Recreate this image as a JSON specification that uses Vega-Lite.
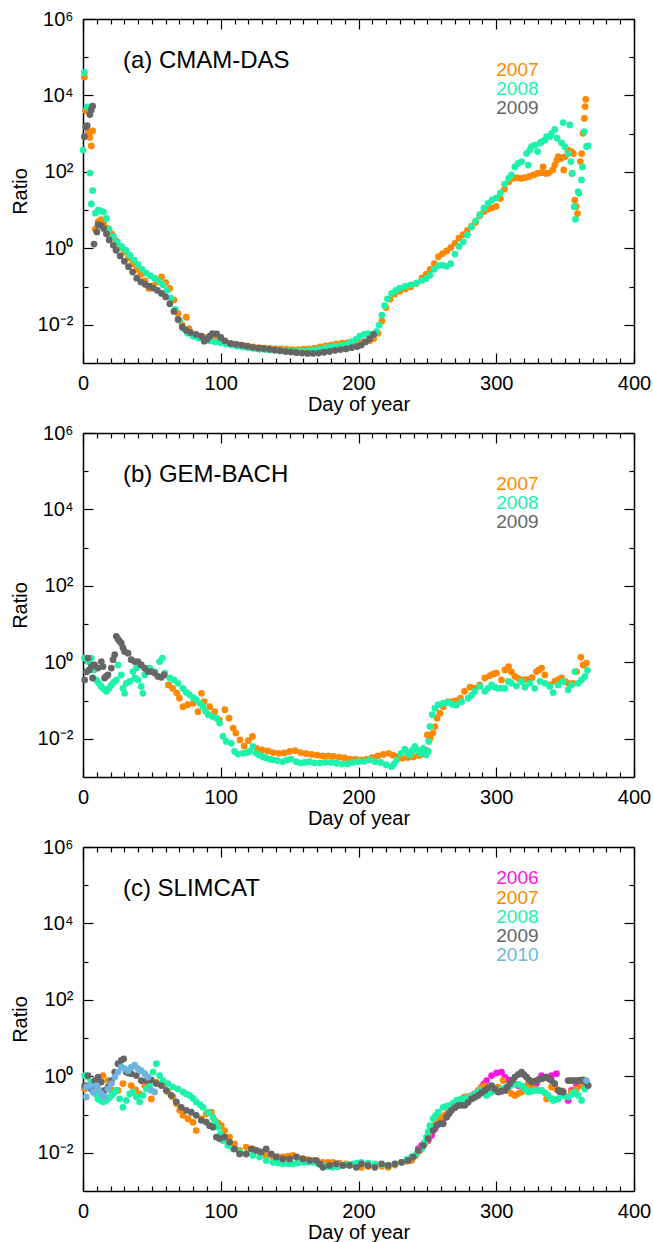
{
"$schema": "https://vega.github.io/schema/vega-lite/v6.json",
"padding": {"left": 10, "top": 9, "right": 5, "bottom": 5},
"config": {
  "view": {"stroke": null},
  "font": "Liberation Sans",
  "axis": {"grid": false, "domainColor": "black", "domainWidth": 1.5, "tickColor": "black", "tickWidth": 1.2, "labelColor": "black", "labelFont": "Liberation Sans", "labelFontSize": 20, "titleFont": "Liberation Sans", "titleFontSize": 20, "titleFontWeight": "normal", "titleColor": "black"}
},
"datasets": {
"a": [
{"y":2007,"d":1,"r":30200},{"y":2007,"d":2,"r":3980},{"y":2007,"d":4,"r":1120},{"y":2007,"d":5,"r":794},{"y":2007,"d":6,"r":479},{"y":2007,"d":7,"r":1175},{"y":2007,"d":9,"r":3.16},{"y":2007,"d":11,"r":5.01},{"y":2007,"d":13,"r":5.62},{"y":2007,"d":15,"r":4.47},{"y":2007,"d":18,"r":3.31},{"y":2007,"d":21,"r":2.4},{"y":2007,"d":24,"r":1.58},{"y":2007,"d":27,"r":1.05},{"y":2007,"d":30,"r":0.794},{"y":2007,"d":33,"r":0.562},{"y":2007,"d":36,"r":0.398},{"y":2007,"d":39,"r":0.282},{"y":2007,"d":42,"r":0.209},{"y":2007,"d":45,"r":0.141},{"y":2007,"d":48,"r":0.0891},{"y":2007,"d":51,"r":0.105},{"y":2007,"d":54,"r":0.132},{"y":2007,"d":57,"r":0.178},{"y":2007,"d":60,"r":0.126},{"y":2007,"d":63,"r":0.0891},{"y":2007,"d":66,"r":0.0447},{"y":2007,"d":69,"r":0.02},{"y":2007,"d":72,"r":0.01},{"y":2007,"d":75,"r":0.0158},{"y":2007,"d":77,"r":0.00794},{"y":2007,"d":80,"r":0.00537},{"y":2007,"d":84,"r":0.00501},{"y":2007,"d":88,"r":0.00468},{"y":2007,"d":92,"r":0.00437},{"y":2007,"d":96,"r":0.00398},{"y":2007,"d":100,"r":0.00372},{"y":2007,"d":104,"r":0.00339},{"y":2007,"d":108,"r":0.00316},{"y":2007,"d":112,"r":0.00302},{"y":2007,"d":116,"r":0.00288},{"y":2007,"d":120,"r":0.00275},{"y":2007,"d":124,"r":0.00263},{"y":2007,"d":128,"r":0.00251},{"y":2007,"d":132,"r":0.00245},{"y":2007,"d":136,"r":0.0024},{"y":2007,"d":140,"r":0.00234},{"y":2007,"d":144,"r":0.00234},{"y":2007,"d":148,"r":0.00229},{"y":2007,"d":152,"r":0.00224},{"y":2007,"d":156,"r":0.00224},{"y":2007,"d":160,"r":0.00229},{"y":2007,"d":164,"r":0.00234},{"y":2007,"d":168,"r":0.00245},{"y":2007,"d":172,"r":0.00263},{"y":2007,"d":176,"r":0.00282},{"y":2007,"d":180,"r":0.00295},{"y":2007,"d":184,"r":0.00316},{"y":2007,"d":188,"r":0.00331},{"y":2007,"d":192,"r":0.00339},{"y":2007,"d":196,"r":0.00347},{"y":2007,"d":200,"r":0.00347},{"y":2007,"d":204,"r":0.00355},{"y":2007,"d":208,"r":0.0038},{"y":2007,"d":211,"r":0.00437},{"y":2007,"d":214,"r":0.00603},{"y":2007,"d":217,"r":0.0126},{"y":2007,"d":220,"r":0.0282},{"y":2007,"d":223,"r":0.0468},{"y":2007,"d":226,"r":0.0631},{"y":2007,"d":230,"r":0.0759},{"y":2007,"d":234,"r":0.0871},{"y":2007,"d":238,"r":0.0977},{"y":2007,"d":242,"r":0.12},{"y":2007,"d":246,"r":0.166},{"y":2007,"d":249,"r":0.209},{"y":2007,"d":252,"r":0.282},{"y":2007,"d":255,"r":0.398},{"y":2007,"d":258,"r":0.603},{"y":2007,"d":261,"r":0.724},{"y":2007,"d":264,"r":0.851},{"y":2007,"d":267,"r":1.05},{"y":2007,"d":270,"r":1.35},{"y":2007,"d":273,"r":1.86},{"y":2007,"d":276,"r":2.29},{"y":2007,"d":279,"r":2.95},{"y":2007,"d":282,"r":3.8},{"y":2007,"d":285,"r":4.79},{"y":2007,"d":288,"r":7.08},{"y":2007,"d":291,"r":9.12},{"y":2007,"d":294,"r":10.5},{"y":2007,"d":297,"r":11.5},{"y":2007,"d":300,"r":12.6},{"y":2007,"d":303,"r":20},{"y":2007,"d":306,"r":35.5},{"y":2007,"d":309,"r":55},{"y":2007,"d":312,"r":67.6},{"y":2007,"d":315,"r":70.8},{"y":2007,"d":318,"r":67.6},{"y":2007,"d":321,"r":70.8},{"y":2007,"d":324,"r":75.9},{"y":2007,"d":327,"r":83.2},{"y":2007,"d":330,"r":91.2},{"y":2007,"d":333,"r":95.5},{"y":2007,"d":334,"r":135},{"y":2007,"d":336,"r":91.2},{"y":2007,"d":338,"r":93.3},{"y":2007,"d":341,"r":112},{"y":2007,"d":342.5,"r":151},{"y":2007,"d":344,"r":204},{"y":2007,"d":345,"r":251},{"y":2007,"d":347,"r":224},{"y":2007,"d":349,"r":112},{"y":2007,"d":350,"r":251},{"y":2007,"d":352,"r":372},{"y":2007,"d":354.6,"r":339},{"y":2007,"d":355,"r":91.2},{"y":2007,"d":356,"r":302},{"y":2007,"d":357,"r":18.2},{"y":2007,"d":358,"r":12.3},{"y":2007,"d":359,"r":8.13},{"y":2007,"d":361,"r":186},{"y":2007,"d":362,"r":302},{"y":2007,"d":363,"r":1023},{"y":2007,"d":364,"r":2512},{"y":2007,"d":364.5,"r":5129},{"y":2007,"d":365,"r":7943},
{"y":2008,"d":0,"r":372},{"y":2008,"d":1,"r":39800},{"y":2008,"d":3,"r":5012},{"y":2008,"d":5,"r":93.3},{"y":2008,"d":6,"r":14.5},{"y":2008,"d":7,"r":32.4},{"y":2008,"d":9,"r":8.32},{"y":2008,"d":11,"r":10},{"y":2008,"d":13,"r":9.55},{"y":2008,"d":15,"r":8.91},{"y":2008,"d":17,"r":6.03},{"y":2008,"d":19,"r":3.16},{"y":2008,"d":22,"r":2.09},{"y":2008,"d":25,"r":1.48},{"y":2008,"d":28,"r":1.12},{"y":2008,"d":31,"r":0.891},{"y":2008,"d":34,"r":0.661},{"y":2008,"d":37,"r":0.501},{"y":2008,"d":40,"r":0.38},{"y":2008,"d":43,"r":0.282},{"y":2008,"d":46,"r":0.224},{"y":2008,"d":49,"r":0.191},{"y":2008,"d":52,"r":0.166},{"y":2008,"d":55,"r":0.141},{"y":2008,"d":58,"r":0.112},{"y":2008,"d":61,"r":0.0794},{"y":2008,"d":64,"r":0.0501},{"y":2008,"d":67,"r":0.0251},{"y":2008,"d":70,"r":0.0132},{"y":2008,"d":73,"r":0.00794},{"y":2008,"d":76,"r":0.00603},{"y":2008,"d":80,"r":0.00501},{"y":2008,"d":84,"r":0.00447},{"y":2008,"d":88,"r":0.00417},{"y":2008,"d":92,"r":0.0038},{"y":2008,"d":96,"r":0.00355},{"y":2008,"d":100,"r":0.00339},{"y":2008,"d":104,"r":0.00316},{"y":2008,"d":108,"r":0.00295},{"y":2008,"d":112,"r":0.00275},{"y":2008,"d":116,"r":0.00263},{"y":2008,"d":120,"r":0.00251},{"y":2008,"d":124,"r":0.0024},{"y":2008,"d":128,"r":0.00229},{"y":2008,"d":132,"r":0.00224},{"y":2008,"d":136,"r":0.00219},{"y":2008,"d":140,"r":0.00214},{"y":2008,"d":144,"r":0.00209},{"y":2008,"d":148,"r":0.00204},{"y":2008,"d":152,"r":0.002},{"y":2008,"d":156,"r":0.002},{"y":2008,"d":160,"r":0.002},{"y":2008,"d":164,"r":0.00209},{"y":2008,"d":168,"r":0.00219},{"y":2008,"d":172,"r":0.00229},{"y":2008,"d":176,"r":0.00245},{"y":2008,"d":180,"r":0.00263},{"y":2008,"d":184,"r":0.00275},{"y":2008,"d":188,"r":0.00295},{"y":2008,"d":192,"r":0.00316},{"y":2008,"d":195,"r":0.00355},{"y":2008,"d":198,"r":0.00417},{"y":2008,"d":201,"r":0.00501},{"y":2008,"d":204,"r":0.00562},{"y":2008,"d":207,"r":0.00589},{"y":2008,"d":210,"r":0.0055},{"y":2008,"d":213,"r":0.00661},{"y":2008,"d":215,"r":0.00977},{"y":2008,"d":217,"r":0.0178},{"y":2008,"d":219,"r":0.0316},{"y":2008,"d":221,"r":0.0479},{"y":2008,"d":224,"r":0.0661},{"y":2008,"d":227,"r":0.0794},{"y":2008,"d":230,"r":0.0912},{"y":2008,"d":234,"r":0.102},{"y":2008,"d":238,"r":0.11},{"y":2008,"d":242,"r":0.123},{"y":2008,"d":246,"r":0.145},{"y":2008,"d":249,"r":0.162},{"y":2008,"d":252,"r":0.2},{"y":2008,"d":255,"r":0.282},{"y":2008,"d":258,"r":0.355},{"y":2008,"d":261,"r":0.363},{"y":2008,"d":264,"r":0.339},{"y":2008,"d":267,"r":0.398},{"y":2008,"d":270,"r":0.708},{"y":2008,"d":273,"r":1.12},{"y":2008,"d":276,"r":1.48},{"y":2008,"d":279,"r":2.24},{"y":2008,"d":282,"r":3.63},{"y":2008,"d":285,"r":5.25},{"y":2008,"d":288,"r":7.59},{"y":2008,"d":291,"r":11.2},{"y":2008,"d":294,"r":15.1},{"y":2008,"d":297,"r":18.6},{"y":2008,"d":300,"r":20.9},{"y":2008,"d":303,"r":28.2},{"y":2008,"d":306,"r":47.9},{"y":2008,"d":309,"r":67.6},{"y":2008,"d":311,"r":83.2},{"y":2008,"d":313.5,"r":135},{"y":2008,"d":316,"r":166},{"y":2008,"d":318.4,"r":186},{"y":2008,"d":322,"r":302},{"y":2008,"d":323.2,"r":151},{"y":2008,"d":324.4,"r":372},{"y":2008,"d":325.6,"r":457},{"y":2008,"d":328,"r":501},{"y":2008,"d":330,"r":339},{"y":2008,"d":331.7,"r":562},{"y":2008,"d":332.9,"r":617},{"y":2008,"d":335.3,"r":676},{"y":2008,"d":336.5,"r":832},{"y":2008,"d":338.9,"r":832},{"y":2008,"d":340.1,"r":1023},{"y":2008,"d":342.5,"r":1288},{"y":2008,"d":344.2,"r":759},{"y":2008,"d":347.4,"r":575},{"y":2008,"d":348.6,"r":1950},{"y":2008,"d":349.8,"r":457},{"y":2008,"d":352.2,"r":302},{"y":2008,"d":353.4,"r":1698},{"y":2008,"d":354.2,"r":186},{"y":2008,"d":355.1,"r":91.2},{"y":2008,"d":356.6,"r":12.3},{"y":2008,"d":357.5,"r":5.75},{"y":2008,"d":359.5,"r":30.2},{"y":2008,"d":360,"r":27.5},{"y":2008,"d":361.9,"r":61.7},{"y":2008,"d":362.6,"r":135},{"y":2008,"d":363.8,"r":1122},{"y":2008,"d":365.5,"r":457},{"y":2008,"d":366.7,"r":479},
{"y":2009,"d":1,"r":832},{"y":2009,"d":2,"r":1514},{"y":2009,"d":3,"r":1622},{"y":2009,"d":5,"r":3162},{"y":2009,"d":6,"r":4169},{"y":2009,"d":7,"r":5248},{"y":2009,"d":8,"r":1.29},{"y":2009,"d":10,"r":2.69},{"y":2009,"d":11,"r":4.17},{"y":2009,"d":13,"r":3.98},{"y":2009,"d":15,"r":3.31},{"y":2009,"d":17,"r":2.4},{"y":2009,"d":19,"r":1.66},{"y":2009,"d":22,"r":1.2},{"y":2009,"d":24,"r":0.891},{"y":2009,"d":27,"r":0.631},{"y":2009,"d":30,"r":0.457},{"y":2009,"d":33,"r":0.331},{"y":2009,"d":36,"r":0.24},{"y":2009,"d":39,"r":0.166},{"y":2009,"d":42,"r":0.132},{"y":2009,"d":45,"r":0.115},{"y":2009,"d":48,"r":0.102},{"y":2009,"d":51,"r":0.0912},{"y":2009,"d":54,"r":0.0794},{"y":2009,"d":57,"r":0.0661},{"y":2009,"d":60,"r":0.0537},{"y":2009,"d":63,"r":0.0355},{"y":2009,"d":66,"r":0.0224},{"y":2009,"d":69,"r":0.0138},{"y":2009,"d":72,"r":0.00871},{"y":2009,"d":75,"r":0.00708},{"y":2009,"d":78,"r":0.00631},{"y":2009,"d":82,"r":0.00562},{"y":2009,"d":86,"r":0.00501},{"y":2009,"d":88,"r":0.00372},{"y":2009,"d":90,"r":0.00417},{"y":2009,"d":92,"r":0.00501},{"y":2009,"d":94,"r":0.00589},{"y":2009,"d":97,"r":0.00575},{"y":2009,"d":100,"r":0.00468},{"y":2009,"d":103,"r":0.0038},{"y":2009,"d":107,"r":0.00324},{"y":2009,"d":111,"r":0.00309},{"y":2009,"d":115,"r":0.00295},{"y":2009,"d":119,"r":0.00275},{"y":2009,"d":123,"r":0.00257},{"y":2009,"d":127,"r":0.00245},{"y":2009,"d":131,"r":0.0024},{"y":2009,"d":135,"r":0.00229},{"y":2009,"d":139,"r":0.00219},{"y":2009,"d":143,"r":0.00209},{"y":2009,"d":147,"r":0.002},{"y":2009,"d":151,"r":0.00195},{"y":2009,"d":155,"r":0.00186},{"y":2009,"d":159,"r":0.00182},{"y":2009,"d":163,"r":0.00178},{"y":2009,"d":167,"r":0.00178},{"y":2009,"d":171,"r":0.00182},{"y":2009,"d":175,"r":0.00191},{"y":2009,"d":179,"r":0.002},{"y":2009,"d":183,"r":0.00214},{"y":2009,"d":187,"r":0.00224},{"y":2009,"d":191,"r":0.00234},{"y":2009,"d":195,"r":0.00251},{"y":2009,"d":199,"r":0.00269},{"y":2009,"d":202,"r":0.00295},{"y":2009,"d":205,"r":0.00355},{"y":2009,"d":208,"r":0.00427},{"y":2009,"d":211,"r":0.00562}
],
"b": [
{"y":2007,"d":62,"r":0.257},{"y":2007,"d":65,"r":0.209},{"y":2007,"d":68,"r":0.158},{"y":2007,"d":70,"r":0.115},{"y":2007,"d":72.6,"r":0.0692},{"y":2007,"d":76,"r":0.0776},{"y":2007,"d":80,"r":0.0851},{"y":2007,"d":83.5,"r":0.0513},{"y":2007,"d":86,"r":0.155},{"y":2007,"d":88,"r":0.0933},{"y":2007,"d":92,"r":0.0692},{"y":2007,"d":95.6,"r":0.0513},{"y":2007,"d":99,"r":0.0309},{"y":2007,"d":103,"r":0.0575},{"y":2007,"d":106,"r":0.0347},{"y":2007,"d":109,"r":0.0191},{"y":2007,"d":111,"r":0.0141},{"y":2007,"d":114,"r":0.00933},{"y":2007,"d":117,"r":0.00646},{"y":2007,"d":120,"r":0.00891},{"y":2007,"d":123,"r":0.0115},{"y":2007,"d":126,"r":0.00562},{"y":2007,"d":130,"r":0.00513},{"y":2007,"d":134,"r":0.00479},{"y":2007,"d":138,"r":0.00437},{"y":2007,"d":142,"r":0.00417},{"y":2007,"d":146,"r":0.00427},{"y":2007,"d":150,"r":0.00468},{"y":2007,"d":154,"r":0.0049},{"y":2007,"d":158,"r":0.00437},{"y":2007,"d":162,"r":0.00407},{"y":2007,"d":166,"r":0.00389},{"y":2007,"d":170,"r":0.00372},{"y":2007,"d":174,"r":0.00355},{"y":2007,"d":178,"r":0.00355},{"y":2007,"d":182,"r":0.00347},{"y":2007,"d":186,"r":0.00331},{"y":2007,"d":190,"r":0.00316},{"y":2007,"d":194,"r":0.00295},{"y":2007,"d":198,"r":0.00288},{"y":2007,"d":202,"r":0.00282},{"y":2007,"d":206,"r":0.00295},{"y":2007,"d":210,"r":0.00324},{"y":2007,"d":214,"r":0.00355},{"y":2007,"d":218,"r":0.00389},{"y":2007,"d":222,"r":0.00417},{"y":2007,"d":225,"r":0.00372},{"y":2007,"d":228,"r":0.00339},{"y":2007,"d":232,"r":0.00309},{"y":2007,"d":236,"r":0.00324},{"y":2007,"d":240,"r":0.00339},{"y":2007,"d":244,"r":0.00363},{"y":2007,"d":247,"r":0.00398},{"y":2007,"d":249,"r":0.00501},{"y":2007,"d":250,"r":0.0126},{"y":2007,"d":252,"r":0.0102},{"y":2007,"d":254,"r":0.0141},{"y":2007,"d":255.5,"r":0.0209},{"y":2007,"d":257,"r":0.0347},{"y":2007,"d":259,"r":0.0468},{"y":2007,"d":261.5,"r":0.0692},{"y":2007,"d":265,"r":0.0933},{"y":2007,"d":268,"r":0.0933},{"y":2007,"d":271,"r":0.1},{"y":2007,"d":274,"r":0.115},{"y":2007,"d":277,"r":0.174},{"y":2007,"d":281,"r":0.224},{"y":2007,"d":284.5,"r":0.209},{"y":2007,"d":288,"r":0.257},{"y":2007,"d":291.7,"r":0.389},{"y":2007,"d":295.4,"r":0.447},{"y":2007,"d":298,"r":0.501},{"y":2007,"d":300.2,"r":0.525},{"y":2007,"d":303.8,"r":0.347},{"y":2007,"d":306.3,"r":0.631},{"y":2007,"d":309,"r":0.776},{"y":2007,"d":311,"r":0.562},{"y":2007,"d":313.5,"r":0.427},{"y":2007,"d":316,"r":0.38},{"y":2007,"d":318.3,"r":0.347},{"y":2007,"d":321,"r":0.355},{"y":2007,"d":323.2,"r":0.347},{"y":2007,"d":326,"r":0.398},{"y":2007,"d":329.2,"r":0.575},{"y":2007,"d":331,"r":0.631},{"y":2007,"d":332.9,"r":0.708},{"y":2007,"d":335.3,"r":0.468},{"y":2007,"d":338.9,"r":0.257},{"y":2007,"d":342.5,"r":0.316},{"y":2007,"d":345,"r":0.355},{"y":2007,"d":347.4,"r":0.389},{"y":2007,"d":350,"r":0.316},{"y":2007,"d":352.2,"r":0.282},{"y":2007,"d":355.8,"r":0.282},{"y":2007,"d":358.3,"r":0.575},{"y":2007,"d":361.4,"r":1.35},{"y":2007,"d":363.1,"r":0.851},{"y":2007,"d":365.5,"r":0.955},
{"y":2008,"d":1,"r":1.29},{"y":2008,"d":3.6,"r":1.05},{"y":2008,"d":6,"r":1.29},{"y":2008,"d":8,"r":0.631},{"y":2008,"d":9.7,"r":0.347},{"y":2008,"d":11.5,"r":0.282},{"y":2008,"d":13.3,"r":0.234},{"y":2008,"d":15,"r":0.2},{"y":2008,"d":17,"r":0.174},{"y":2008,"d":19,"r":0.209},{"y":2008,"d":20.6,"r":0.257},{"y":2008,"d":22.5,"r":0.302},{"y":2008,"d":24.2,"r":0.347},{"y":2008,"d":25.4,"r":0.851},{"y":2008,"d":27.8,"r":0.468},{"y":2008,"d":29,"r":0.209},{"y":2008,"d":30.2,"r":0.155},{"y":2008,"d":31.4,"r":0.282},{"y":2008,"d":33.9,"r":0.316},{"y":2008,"d":36.3,"r":0.575},{"y":2008,"d":37.5,"r":0.389},{"y":2008,"d":38.7,"r":0.708},{"y":2008,"d":39.9,"r":0.347},{"y":2008,"d":42.3,"r":0.234},{"y":2008,"d":43.5,"r":0.155},{"y":2008,"d":44.8,"r":0.468},{"y":2008,"d":46,"r":0.631},{"y":2008,"d":48.4,"r":0.708},{"y":2008,"d":52,"r":0.575},{"y":2008,"d":55.6,"r":1.05},{"y":2008,"d":57.6,"r":1.29},{"y":2008,"d":59.3,"r":0.525},{"y":2008,"d":63,"r":0.389},{"y":2008,"d":66,"r":0.347},{"y":2008,"d":69,"r":0.282},{"y":2008,"d":72.6,"r":0.209},{"y":2008,"d":75,"r":0.166},{"y":2008,"d":77.4,"r":0.141},{"y":2008,"d":80,"r":0.12},{"y":2008,"d":82.2,"r":0.105},{"y":2008,"d":85,"r":0.0832},{"y":2008,"d":87.1,"r":0.0692},{"y":2008,"d":89,"r":0.0525},{"y":2008,"d":91,"r":0.0427},{"y":2008,"d":94,"r":0.038},{"y":2008,"d":97,"r":0.0347},{"y":2008,"d":99.2,"r":0.0257},{"y":2008,"d":101.6,"r":0.0115},{"y":2008,"d":104,"r":0.00851},{"y":2008,"d":107.6,"r":0.00759},{"y":2008,"d":110,"r":0.00468},{"y":2008,"d":112.5,"r":0.00398},{"y":2008,"d":116,"r":0.00417},{"y":2008,"d":119,"r":0.00437},{"y":2008,"d":121,"r":0.00468},{"y":2008,"d":123.4,"r":0.00631},{"y":2008,"d":125.8,"r":0.00417},{"y":2008,"d":128,"r":0.00372},{"y":2008,"d":130.6,"r":0.00339},{"y":2008,"d":133,"r":0.00316},{"y":2008,"d":135.5,"r":0.00295},{"y":2008,"d":138,"r":0.00282},{"y":2008,"d":141,"r":0.00269},{"y":2008,"d":145,"r":0.00251},{"y":2008,"d":148,"r":0.00275},{"y":2008,"d":151,"r":0.00295},{"y":2008,"d":154.8,"r":0.00251},{"y":2008,"d":158,"r":0.00234},{"y":2008,"d":161,"r":0.0024},{"y":2008,"d":164.5,"r":0.00251},{"y":2008,"d":168,"r":0.00234},{"y":2008,"d":172,"r":0.00234},{"y":2008,"d":176,"r":0.0024},{"y":2008,"d":180,"r":0.0024},{"y":2008,"d":184,"r":0.00229},{"y":2008,"d":188,"r":0.00219},{"y":2008,"d":192,"r":0.00219},{"y":2008,"d":196,"r":0.0024},{"y":2008,"d":200,"r":0.00251},{"y":2008,"d":204,"r":0.00257},{"y":2008,"d":208,"r":0.00282},{"y":2008,"d":212,"r":0.00251},{"y":2008,"d":216,"r":0.0024},{"y":2008,"d":220,"r":0.00209},{"y":2008,"d":224,"r":0.00186},{"y":2008,"d":226,"r":0.00224},{"y":2008,"d":228,"r":0.00282},{"y":2008,"d":231,"r":0.00417},{"y":2008,"d":233.7,"r":0.00537},{"y":2008,"d":235.5,"r":0.00447},{"y":2008,"d":237.3,"r":0.0038},{"y":2008,"d":239,"r":0.00501},{"y":2008,"d":241,"r":0.00631},{"y":2008,"d":243,"r":0.00501},{"y":2008,"d":244.6,"r":0.00417},{"y":2008,"d":247,"r":0.00562},{"y":2008,"d":249,"r":0.0038},{"y":2008,"d":250.6,"r":0.00468},{"y":2008,"d":251,"r":0.00851},{"y":2008,"d":251.8,"r":0.0209},{"y":2008,"d":253.5,"r":0.0427},{"y":2008,"d":255.5,"r":0.0631},{"y":2008,"d":257.9,"r":0.0776},{"y":2008,"d":261.5,"r":0.0851},{"y":2008,"d":265,"r":0.0891},{"y":2008,"d":268,"r":0.0794},{"y":2008,"d":271,"r":0.0759},{"y":2008,"d":274.8,"r":0.0933},{"y":2008,"d":279.6,"r":0.115},{"y":2008,"d":282,"r":0.138},{"y":2008,"d":284.5,"r":0.174},{"y":2008,"d":288.1,"r":0.234},{"y":2008,"d":291.7,"r":0.174},{"y":2008,"d":294,"r":0.209},{"y":2008,"d":296.6,"r":0.257},{"y":2008,"d":299,"r":0.224},{"y":2008,"d":301.4,"r":0.209},{"y":2008,"d":304,"r":0.209},{"y":2008,"d":306.3,"r":0.209},{"y":2008,"d":308.7,"r":0.316},{"y":2008,"d":311.1,"r":0.282},{"y":2008,"d":314.7,"r":0.24},{"y":2008,"d":318.3,"r":0.316},{"y":2008,"d":320.8,"r":0.224},{"y":2008,"d":324.4,"r":0.282},{"y":2008,"d":328,"r":0.209},{"y":2008,"d":331.7,"r":0.316},{"y":2008,"d":335.3,"r":0.282},{"y":2008,"d":338.9,"r":0.234},{"y":2008,"d":341.3,"r":0.162},{"y":2008,"d":344.9,"r":0.257},{"y":2008,"d":348.6,"r":0.316},{"y":2008,"d":352.2,"r":0.191},{"y":2008,"d":354.6,"r":0.257},{"y":2008,"d":357,"r":0.575},{"y":2008,"d":359.5,"r":0.282},{"y":2008,"d":361.9,"r":0.347},{"y":2008,"d":364.3,"r":0.427},{"y":2008,"d":366.2,"r":0.617},
{"y":2009,"d":1.2,"r":0.347},{"y":2009,"d":2.5,"r":0.562},{"y":2009,"d":3.6,"r":1.29},{"y":2009,"d":4.5,"r":0.631},{"y":2009,"d":6,"r":0.776},{"y":2009,"d":7,"r":0.389},{"y":2009,"d":8.5,"r":0.851},{"y":2009,"d":10.9,"r":0.708},{"y":2009,"d":13.3,"r":1.05},{"y":2009,"d":14.5,"r":0.776},{"y":2009,"d":15.7,"r":0.389},{"y":2009,"d":17,"r":0.437},{"y":2009,"d":18.1,"r":0.468},{"y":2009,"d":20.6,"r":0.708},{"y":2009,"d":21.8,"r":1.175},{"y":2009,"d":23,"r":1.58},{"y":2009,"d":24.2,"r":4.79},{"y":2009,"d":25.4,"r":4.07},{"y":2009,"d":26.6,"r":3.55},{"y":2009,"d":27.8,"r":3.16},{"y":2009,"d":29,"r":2.4},{"y":2009,"d":30.2,"r":1.91},{"y":2009,"d":32.7,"r":1.74},{"y":2009,"d":35,"r":1.175},{"y":2009,"d":37.5,"r":1.05},{"y":2009,"d":39.9,"r":1.05},{"y":2009,"d":42.3,"r":0.851},{"y":2009,"d":44.8,"r":0.708},{"y":2009,"d":47.2,"r":0.575},{"y":2009,"d":49.6,"r":0.575},{"y":2009,"d":52,"r":0.525},{"y":2009,"d":54.4,"r":0.427},{"y":2009,"d":56.8,"r":0.407},{"y":2009,"d":58.8,"r":0.468}
],
"c": [
{"y":2006,"d":243.4,"r":0.0126},{"y":2006,"d":245.8,"r":0.0155},{"y":2006,"d":248,"r":0.0178},{"y":2006,"d":250.6,"r":0.0209},{"y":2006,"d":253,"r":0.0282},{"y":2006,"d":255.5,"r":0.0427},{"y":2006,"d":258.5,"r":0.0575},{"y":2006,"d":261.5,"r":0.0776},{"y":2006,"d":264.5,"r":0.1},{"y":2006,"d":267.5,"r":0.129},{"y":2006,"d":270,"r":0.178},{"y":2006,"d":272.4,"r":0.234},{"y":2006,"d":276,"r":0.263},{"y":2006,"d":279.6,"r":0.288},{"y":2006,"d":284.5,"r":0.347},{"y":2006,"d":287,"r":0.417},{"y":2006,"d":289.3,"r":0.525},{"y":2006,"d":291,"r":0.631},{"y":2006,"d":293,"r":0.776},{"y":2006,"d":296.6,"r":1.05},{"y":2006,"d":300.2,"r":1.23},{"y":2006,"d":303.8,"r":1.29},{"y":2006,"d":306.3,"r":0.955},{"y":2006,"d":308.7,"r":0.813},{"y":2006,"d":311.1,"r":0.708},{"y":2006,"d":313.5,"r":0.631},{"y":2006,"d":315.9,"r":0.575},{"y":2006,"d":320.8,"r":0.525},{"y":2006,"d":325.6,"r":0.646},{"y":2006,"d":329.2,"r":0.646},{"y":2006,"d":332.9,"r":1.05},{"y":2006,"d":336.5,"r":0.955},{"y":2006,"d":340.1,"r":1.05},{"y":2006,"d":343.7,"r":1.175},{"y":2006,"d":346.2,"r":0.389},{"y":2006,"d":349,"r":0.316},{"y":2006,"d":352.2,"r":0.234},{"y":2006,"d":354.6,"r":0.427},{"y":2006,"d":358.3,"r":0.575},{"y":2006,"d":361.9,"r":0.776},
{"y":2007,"d":1.2,"r":0.468},{"y":2007,"d":4,"r":0.562},{"y":2007,"d":6,"r":0.708},{"y":2007,"d":8.5,"r":0.661},{"y":2007,"d":10.9,"r":0.646},{"y":2007,"d":14.5,"r":1.05},{"y":2007,"d":18.1,"r":0.776},{"y":2007,"d":21.8,"r":0.427},{"y":2007,"d":25.4,"r":0.427},{"y":2007,"d":29,"r":0.646},{"y":2007,"d":35,"r":0.575},{"y":2007,"d":38,"r":0.447},{"y":2007,"d":41.1,"r":0.347},{"y":2007,"d":44.8,"r":0.575},{"y":2007,"d":49.6,"r":0.257},{"y":2007,"d":53.2,"r":0.708},{"y":2007,"d":58,"r":0.575},{"y":2007,"d":61.7,"r":0.389},{"y":2007,"d":65.3,"r":0.288},{"y":2007,"d":68,"r":0.191},{"y":2007,"d":70.2,"r":0.129},{"y":2007,"d":72.6,"r":0.0955},{"y":2007,"d":76.2,"r":0.0776},{"y":2007,"d":79.8,"r":0.0631},{"y":2007,"d":82.2,"r":0.038},{"y":2007,"d":85.9,"r":0.0776},{"y":2007,"d":89.5,"r":0.105},{"y":2007,"d":93.1,"r":0.115},{"y":2007,"d":95.6,"r":0.0708},{"y":2007,"d":98,"r":0.0603},{"y":2007,"d":100.4,"r":0.0513},{"y":2007,"d":102.8,"r":0.038},{"y":2007,"d":106.4,"r":0.0257},{"y":2007,"d":110,"r":0.017},{"y":2007,"d":113.7,"r":0.0115},{"y":2007,"d":118.5,"r":0.0141},{"y":2007,"d":123.4,"r":0.0126},{"y":2007,"d":128.2,"r":0.0105},{"y":2007,"d":133,"r":0.00851},{"y":2007,"d":137.9,"r":0.00776},{"y":2007,"d":141.5,"r":0.00776},{"y":2007,"d":145.1,"r":0.00776},{"y":2007,"d":149,"r":0.00813},{"y":2007,"d":152.4,"r":0.00851},{"y":2007,"d":156,"r":0.00759},{"y":2007,"d":159.7,"r":0.00692},{"y":2007,"d":163,"r":0.00661},{"y":2007,"d":166.9,"r":0.00631},{"y":2007,"d":170.5,"r":0.00589},{"y":2007,"d":174.2,"r":0.00562},{"y":2007,"d":178,"r":0.00562},{"y":2007,"d":181.4,"r":0.00562},{"y":2007,"d":186,"r":0.00537},{"y":2007,"d":191,"r":0.00513},{"y":2007,"d":195,"r":0.0049},{"y":2007,"d":198.4,"r":0.00468},{"y":2007,"d":202,"r":0.00417},{"y":2007,"d":207,"r":0.00437},{"y":2007,"d":212,"r":0.00468},{"y":2007,"d":217,"r":0.00447},{"y":2007,"d":221.6,"r":0.00417},{"y":2007,"d":226.5,"r":0.00479},{"y":2007,"d":231.3,"r":0.00562},{"y":2007,"d":235,"r":0.00603},{"y":2007,"d":238.5,"r":0.00631},{"y":2007,"d":241.5,"r":0.00832},{"y":2007,"d":244.6,"r":0.0115},{"y":2007,"d":247,"r":0.0151},{"y":2007,"d":249.4,"r":0.0209},{"y":2007,"d":251,"r":0.0282},{"y":2007,"d":253,"r":0.038},{"y":2007,"d":255.5,"r":0.0525},{"y":2007,"d":257.9,"r":0.0708},{"y":2007,"d":260.3,"r":0.0832},{"y":2007,"d":262.7,"r":0.0955},{"y":2007,"d":265,"r":0.115},{"y":2007,"d":267.5,"r":0.141},{"y":2007,"d":270,"r":0.158},{"y":2007,"d":272.4,"r":0.174},{"y":2007,"d":275,"r":0.224},{"y":2007,"d":277.2,"r":0.288},{"y":2007,"d":282.1,"r":0.316},{"y":2007,"d":286.9,"r":0.427},{"y":2007,"d":289,"r":0.501},{"y":2007,"d":291.7,"r":0.575},{"y":2007,"d":294,"r":0.479},{"y":2007,"d":296.6,"r":0.389},{"y":2007,"d":299,"r":0.457},{"y":2007,"d":301.4,"r":0.525},{"y":2007,"d":305,"r":0.776},{"y":2007,"d":308.7,"r":0.427},{"y":2007,"d":311,"r":0.355},{"y":2007,"d":313.5,"r":0.316},{"y":2007,"d":316,"r":0.355},{"y":2007,"d":318.4,"r":0.389},{"y":2007,"d":321,"r":0.501},{"y":2007,"d":323.2,"r":0.646},{"y":2007,"d":325.6,"r":0.55},{"y":2007,"d":328,"r":0.468},{"y":2007,"d":332.9,"r":0.427},{"y":2007,"d":336.5,"r":0.257},{"y":2007,"d":340.1,"r":0.525},{"y":2007,"d":343.7,"r":0.468},{"y":2007,"d":348,"r":0.417},{"y":2007,"d":354.6,"r":0.389},{"y":2007,"d":358.3,"r":0.468},{"y":2007,"d":361.9,"r":0.575},
{"y":2008,"d":1.2,"r":1.05},{"y":2008,"d":3.6,"r":0.955},{"y":2008,"d":5.5,"r":0.661},{"y":2008,"d":7.3,"r":0.468},{"y":2008,"d":9,"r":0.347},{"y":2008,"d":10.9,"r":0.257},{"y":2008,"d":12.7,"r":0.234},{"y":2008,"d":14.5,"r":0.214},{"y":2008,"d":17,"r":0.234},{"y":2008,"d":19,"r":0.275},{"y":2008,"d":20.6,"r":0.316},{"y":2008,"d":22.5,"r":0.372},{"y":2008,"d":24.2,"r":0.427},{"y":2008,"d":26.6,"r":0.257},{"y":2008,"d":29,"r":0.155},{"y":2008,"d":31.4,"r":0.234},{"y":2008,"d":33.9,"r":0.347},{"y":2008,"d":36.3,"r":0.389},{"y":2008,"d":38.7,"r":0.288},{"y":2008,"d":41.1,"r":0.214},{"y":2008,"d":43.5,"r":0.316},{"y":2008,"d":46,"r":0.468},{"y":2008,"d":48.4,"r":0.575},{"y":2008,"d":50.8,"r":1.29},{"y":2008,"d":53.2,"r":2.14},{"y":2008,"d":55.6,"r":1.05},{"y":2008,"d":58,"r":0.776},{"y":2008,"d":61.7,"r":0.646},{"y":2008,"d":65.3,"r":0.525},{"y":2008,"d":68.9,"r":0.468},{"y":2008,"d":72.6,"r":0.389},{"y":2008,"d":75,"r":0.347},{"y":2008,"d":77.4,"r":0.316},{"y":2008,"d":80,"r":0.263},{"y":2008,"d":82.2,"r":0.214},{"y":2008,"d":85,"r":0.182},{"y":2008,"d":87.1,"r":0.155},{"y":2008,"d":90.7,"r":0.115},{"y":2008,"d":94.3,"r":0.0851},{"y":2008,"d":96,"r":0.0631},{"y":2008,"d":98,"r":0.0468},{"y":2008,"d":100,"r":0.0316},{"y":2008,"d":101.6,"r":0.0209},{"y":2008,"d":105.2,"r":0.0155},{"y":2008,"d":108.9,"r":0.0126},{"y":2008,"d":113.7,"r":0.0105},{"y":2008,"d":118.5,"r":0.00933},{"y":2008,"d":123.4,"r":0.00851},{"y":2008,"d":128.2,"r":0.00776},{"y":2008,"d":133,"r":0.00631},{"y":2008,"d":137.9,"r":0.00562},{"y":2008,"d":141.5,"r":0.00537},{"y":2008,"d":145,"r":0.00513},{"y":2008,"d":149,"r":0.00513},{"y":2008,"d":152.4,"r":0.00513},{"y":2008,"d":156,"r":0.00537},{"y":2008,"d":159.7,"r":0.00562},{"y":2008,"d":163.3,"r":0.00562},{"y":2008,"d":166.9,"r":0.00562},{"y":2008,"d":170.5,"r":0.00513},{"y":2008,"d":174.2,"r":0.00468},{"y":2008,"d":177.8,"r":0.00437},{"y":2008,"d":181.4,"r":0.00417},{"y":2008,"d":185,"r":0.00437},{"y":2008,"d":188.7,"r":0.00468},{"y":2008,"d":192.3,"r":0.0049},{"y":2008,"d":196,"r":0.00513},{"y":2008,"d":199,"r":0.00537},{"y":2008,"d":202,"r":0.00562},{"y":2008,"d":207,"r":0.00537},{"y":2008,"d":212,"r":0.00513},{"y":2008,"d":217,"r":0.0049},{"y":2008,"d":221.6,"r":0.00468},{"y":2008,"d":226.5,"r":0.00513},{"y":2008,"d":231.3,"r":0.00562},{"y":2008,"d":235,"r":0.00661},{"y":2008,"d":238.5,"r":0.00776},{"y":2008,"d":242.2,"r":0.00933},{"y":2008,"d":245.8,"r":0.0126},{"y":2008,"d":247.6,"r":0.0178},{"y":2008,"d":249.4,"r":0.0257},{"y":2008,"d":250.6,"r":0.0355},{"y":2008,"d":251.8,"r":0.0513},{"y":2008,"d":254.2,"r":0.0776},{"y":2008,"d":256,"r":0.0955},{"y":2008,"d":257.9,"r":0.115},{"y":2008,"d":261.5,"r":0.155},{"y":2008,"d":264,"r":0.166},{"y":2008,"d":266.3,"r":0.174},{"y":2008,"d":268.7,"r":0.2},{"y":2008,"d":271.2,"r":0.234},{"y":2008,"d":274,"r":0.251},{"y":2008,"d":277.2,"r":0.257},{"y":2008,"d":280,"r":0.282},{"y":2008,"d":283.3,"r":0.316},{"y":2008,"d":285.7,"r":0.372},{"y":2008,"d":288.1,"r":0.427},{"y":2008,"d":290.5,"r":0.363},{"y":2008,"d":293,"r":0.316},{"y":2008,"d":295.4,"r":0.372},{"y":2008,"d":297.8,"r":0.427},{"y":2008,"d":300.8,"r":0.447},{"y":2008,"d":303.8,"r":0.468},{"y":2008,"d":306.3,"r":0.501},{"y":2008,"d":308.7,"r":0.525},{"y":2008,"d":311,"r":0.589},{"y":2008,"d":313.5,"r":0.646},{"y":2008,"d":316,"r":0.617},{"y":2008,"d":318.4,"r":0.575},{"y":2008,"d":321,"r":0.468},{"y":2008,"d":323.2,"r":0.389},{"y":2008,"d":325.6,"r":0.407},{"y":2008,"d":328,"r":0.427},{"y":2008,"d":330.4,"r":0.427},{"y":2008,"d":332.9,"r":0.427},{"y":2008,"d":335.3,"r":0.372},{"y":2008,"d":337.7,"r":0.316},{"y":2008,"d":339.5,"r":0.269},{"y":2008,"d":341.3,"r":0.234},{"y":2008,"d":343,"r":0.245},{"y":2008,"d":345,"r":0.257},{"y":2008,"d":348.6,"r":0.316},{"y":2008,"d":352.2,"r":0.288},{"y":2008,"d":355,"r":0.339},{"y":2008,"d":357,"r":0.389},{"y":2008,"d":359.5,"r":0.316},{"y":2008,"d":361.9,"r":0.234},{"y":2008,"d":364.3,"r":0.468},{"y":2008,"d":366.7,"r":0.575},
{"y":2009,"d":1.2,"r":0.575},{"y":2009,"d":3.6,"r":1.05},{"y":2009,"d":6,"r":0.468},{"y":2009,"d":8.5,"r":0.776},{"y":2009,"d":10.9,"r":0.955},{"y":2009,"d":13.3,"r":0.708},{"y":2009,"d":15.7,"r":0.427},{"y":2009,"d":18.1,"r":0.525},{"y":2009,"d":20.6,"r":0.776},{"y":2009,"d":23,"r":1.29},{"y":2009,"d":25.4,"r":2.14},{"y":2009,"d":27.8,"r":2.63},{"y":2009,"d":29.5,"r":2.88},{"y":2009,"d":31.4,"r":1.29},{"y":2009,"d":33,"r":1.23},{"y":2009,"d":35,"r":1.175},{"y":2009,"d":38.7,"r":1.05},{"y":2009,"d":42.3,"r":0.776},{"y":2009,"d":46,"r":0.776},{"y":2009,"d":49.6,"r":0.813},{"y":2009,"d":53.2,"r":0.646},{"y":2009,"d":56.8,"r":0.575},{"y":2009,"d":60.5,"r":0.427},{"y":2009,"d":64.1,"r":0.316},{"y":2009,"d":67.7,"r":0.214},{"y":2009,"d":71.4,"r":0.155},{"y":2009,"d":75,"r":0.129},{"y":2009,"d":78.6,"r":0.115},{"y":2009,"d":82.2,"r":0.0955},{"y":2009,"d":85.9,"r":0.0708},{"y":2009,"d":89.5,"r":0.0631},{"y":2009,"d":91.9,"r":0.0513},{"y":2009,"d":94.3,"r":0.0468},{"y":2009,"d":96.8,"r":0.0257},{"y":2009,"d":99.2,"r":0.0234},{"y":2009,"d":102.8,"r":0.0257},{"y":2009,"d":106.4,"r":0.0191},{"y":2009,"d":110,"r":0.0126},{"y":2009,"d":113.7,"r":0.00933},{"y":2009,"d":118.5,"r":0.00933},{"y":2009,"d":122.2,"r":0.0126},{"y":2009,"d":125.8,"r":0.0115},{"y":2009,"d":129.4,"r":0.0105},{"y":2009,"d":133,"r":0.0126},{"y":2009,"d":136.7,"r":0.00933},{"y":2009,"d":140.3,"r":0.00776},{"y":2009,"d":145.1,"r":0.00692},{"y":2009,"d":150,"r":0.00692},{"y":2009,"d":154.8,"r":0.00776},{"y":2009,"d":159.7,"r":0.00692},{"y":2009,"d":164.5,"r":0.00631},{"y":2009,"d":169.3,"r":0.00631},{"y":2009,"d":172,"r":0.00501},{"y":2009,"d":174.2,"r":0.00417},{"y":2009,"d":179,"r":0.00468},{"y":2009,"d":183.8,"r":0.00513},{"y":2009,"d":188.7,"r":0.00468},{"y":2009,"d":193.5,"r":0.00468},{"y":2009,"d":198.4,"r":0.00417},{"y":2009,"d":202.2,"r":0.00513},{"y":2009,"d":207,"r":0.00468},{"y":2009,"d":211.9,"r":0.00417},{"y":2009,"d":216.8,"r":0.00513},{"y":2009,"d":221.6,"r":0.00468},{"y":2009,"d":226.4,"r":0.00513},{"y":2009,"d":231.3,"r":0.00562},{"y":2009,"d":236.1,"r":0.00631},{"y":2009,"d":239.7,"r":0.00776},{"y":2009,"d":243.4,"r":0.0115},{"y":2009,"d":247,"r":0.0155},{"y":2009,"d":250.6,"r":0.0234},{"y":2009,"d":254.2,"r":0.038},{"y":2009,"d":256.7,"r":0.0513},{"y":2009,"d":259.1,"r":0.0575},{"y":2009,"d":261.5,"r":0.0575},{"y":2009,"d":263.9,"r":0.0851},{"y":2009,"d":265.7,"r":0.105},{"y":2009,"d":267.5,"r":0.129},{"y":2009,"d":270,"r":0.151},{"y":2009,"d":272.4,"r":0.174},{"y":2009,"d":274.8,"r":0.174},{"y":2009,"d":277.2,"r":0.174},{"y":2009,"d":279.6,"r":0.209},{"y":2009,"d":282.1,"r":0.257},{"y":2009,"d":284.5,"r":0.282},{"y":2009,"d":286.9,"r":0.316},{"y":2009,"d":289.3,"r":0.372},{"y":2009,"d":291.7,"r":0.427},{"y":2009,"d":294,"r":0.501},{"y":2009,"d":296.6,"r":0.575},{"y":2009,"d":299,"r":0.468},{"y":2009,"d":301.4,"r":0.389},{"y":2009,"d":303.8,"r":0.407},{"y":2009,"d":306.3,"r":0.427},{"y":2009,"d":308,"r":0.525},{"y":2009,"d":309.9,"r":0.646},{"y":2009,"d":311.7,"r":0.794},{"y":2009,"d":313.5,"r":0.955},{"y":2009,"d":316,"r":1.12},{"y":2009,"d":318.4,"r":1.29},{"y":2009,"d":320.2,"r":1.1},{"y":2009,"d":322,"r":0.955},{"y":2009,"d":323.8,"r":0.813},{"y":2009,"d":325.6,"r":0.708},{"y":2009,"d":327.4,"r":0.741},{"y":2009,"d":329.2,"r":0.776},{"y":2009,"d":331,"r":0.832},{"y":2009,"d":332.9,"r":0.871},{"y":2009,"d":334.7,"r":0.912},{"y":2009,"d":336.5,"r":0.955},{"y":2009,"d":338.3,"r":0.871},{"y":2009,"d":340.1,"r":0.776},{"y":2009,"d":342.5,"r":0.646},{"y":2009,"d":345,"r":0.427},{"y":2009,"d":346.8,"r":0.407},{"y":2009,"d":348.6,"r":0.389},{"y":2009,"d":352.2,"r":0.776},{"y":2009,"d":354,"r":0.776},{"y":2009,"d":355.8,"r":0.776},{"y":2009,"d":357.6,"r":0.776},{"y":2009,"d":359.5,"r":0.776},{"y":2009,"d":361.3,"r":0.794},{"y":2009,"d":363.1,"r":0.813},{"y":2009,"d":365,"r":0.708},{"y":2009,"d":366.7,"r":0.575},
{"y":2010,"d":2.4,"r":0.288},{"y":2010,"d":2.6,"r":0.525},{"y":2010,"d":4.8,"r":0.575},{"y":2010,"d":7.3,"r":0.389},{"y":2010,"d":9.7,"r":0.575},{"y":2010,"d":11.5,"r":0.447},{"y":2010,"d":13.3,"r":0.347},{"y":2010,"d":15.7,"r":0.288},{"y":2010,"d":18.1,"r":0.468},{"y":2010,"d":20.6,"r":0.646},{"y":2010,"d":23,"r":0.955},{"y":2010,"d":25.4,"r":1.29},{"y":2010,"d":27.8,"r":1.74},{"y":2010,"d":30.2,"r":1.58},{"y":2010,"d":32.7,"r":1.41},{"y":2010,"d":35,"r":1.74},{"y":2010,"d":37.5,"r":1.95},{"y":2010,"d":39.9,"r":1.58},{"y":2010,"d":42.3,"r":1.41},{"y":2010,"d":44.8,"r":1.175},{"y":2010,"d":47.2,"r":0.955},{"y":2010,"d":49.6,"r":0.427},{"y":2010,"d":52,"r":0.389},{"y":2010,"d":365.5,"r":0.776}
]
},
"spacing": 70,
"bounds": "flush",
"vconcat": [
{
 "width": 551, "height": 344,
 "resolve": {"axis": {"x": "independent", "y": "independent"}},
 "layer": [
  {"data": {"name": "a"}, "mark": {"type": "circle", "size": 46, "opacity": 1},
   "encoding": {
    "x": {"field": "d", "type": "quantitative", "scale": {"domain": [0, 400], "nice": false, "zero": false},
          "axis": {"orient": "bottom", "values": [0,10,20,30,40,50,60,70,80,90,100,110,120,130,140,150,160,170,180,190,200,210,220,230,240,250,260,270,280,290,300,310,320,330,340,350,360,370,380,390,400], "tickSize": {"condition": {"test": "datum.value % 100 === 0", "value": -10}, "value": -5}, "labelExpr": "datum.value % 100 === 0 ? datum.label : ''", "labelFlush": false, "labelOverlap": false, "labelPadding": 20, "title": "Day of year", "titlePadding": -4}},
    "y": {"field": "r", "type": "quantitative", "scale": {"type": "log", "domain": [0.001, 1000000], "nice": false},
          "axis": {"orient": "left", "values": [0.01,0.1,1,10,100,1000,10000,100000,1000000], "tickSize": {"condition": {"test": "abs(round(log(datum.value)/LN10)) % 2 === 0", "value": -10}, "value": -5}, "labelExpr": "round(log(datum.value)/LN10) === -2 ? '10\u207b\u00b2' : round(log(datum.value)/LN10) === 0 ? '10\u2070' : round(log(datum.value)/LN10) === 2 ? '10\u00b2' : round(log(datum.value)/LN10) === 4 ? '10\u2074' : round(log(datum.value)/LN10) === 6 ? '10\u2076' : ''", "labelOverlap": false, "labelPadding": 20, "title": "Ratio", "titlePadding": 7}},
    "color": {"field": "y", "type": "nominal", "scale": {"domain": [2006,2007,2008,2009,2010], "range": ["#FF14E6","#FF8800","#1EF2AA","#666666","#6DB5DF"]}, "legend": null}
   }},
  {"data": {"values": [{"d": 29, "r": 79400, "t": "(a) CMAM-DAS"}]}, "mark": {"type": "text", "align": "left", "baseline": "middle", "fontSize": 24, "font": "Liberation Sans", "color": "black"},
   "encoding": {
    "x": {"field": "d", "type": "quantitative", "scale": {"domain": [0, 400], "nice": false, "zero": false},
          "axis": {"orient": "top", "values": [0,10,20,30,40,50,60,70,80,90,100,110,120,130,140,150,160,170,180,190,200,210,220,230,240,250,260,270,280,290,300,310,320,330,340,350,360,370,380,390,400], "tickSize": {"condition": {"test": "datum.value % 100 === 0", "value": -10}, "value": -5}, "labels": false, "title": null}},
    "y": {"field": "r", "type": "quantitative", "scale": {"type": "log", "domain": [0.001, 1000000], "nice": false},
          "axis": {"orient": "right", "values": [0.01,0.1,1,10,100,1000,10000,100000,1000000], "tickSize": {"condition": {"test": "abs(round(log(datum.value)/LN10)) % 2 === 0", "value": -10}, "value": -5}, "labels": false, "title": null}},
    "text": {"field": "t"}
   }},
  {"data": {"values": [{"y": 2007, "d": 300, "r": 45700, "t": "2007"}, {"y": 2008, "d": 300, "r": 14800, "t": "2008"}, {"y": 2009, "d": 300, "r": 4620, "t": "2009"}]},
   "mark": {"type": "text", "align": "left", "baseline": "middle", "fontSize": 19, "font": "Liberation Sans"},
   "encoding": {
    "x": {"field": "d", "type": "quantitative", "scale": {"domain": [0, 400], "nice": false, "zero": false}, "axis": null},
    "y": {"field": "r", "type": "quantitative", "scale": {"type": "log", "domain": [0.001, 1000000], "nice": false}, "axis": null},
    "text": {"field": "t"},
    "color": {"field": "y", "type": "nominal", "scale": {"domain": [2006,2007,2008,2009,2010], "range": ["#FF14E6","#FF8800","#1EF2AA","#666666","#6DB5DF"]}, "legend": null}
   }}
 ]
},
{
 "width": 551, "height": 344,
 "resolve": {"axis": {"x": "independent", "y": "independent"}},
 "layer": [
  {"data": {"name": "b"}, "mark": {"type": "circle", "size": 46, "opacity": 1},
   "encoding": {
    "x": {"field": "d", "type": "quantitative", "scale": {"domain": [0, 400], "nice": false, "zero": false},
          "axis": {"orient": "bottom", "values": [0,10,20,30,40,50,60,70,80,90,100,110,120,130,140,150,160,170,180,190,200,210,220,230,240,250,260,270,280,290,300,310,320,330,340,350,360,370,380,390,400], "tickSize": {"condition": {"test": "datum.value % 100 === 0", "value": -10}, "value": -5}, "labelExpr": "datum.value % 100 === 0 ? datum.label : ''", "labelFlush": false, "labelOverlap": false, "labelPadding": 20, "title": "Day of year", "titlePadding": -4}},
    "y": {"field": "r", "type": "quantitative", "scale": {"type": "log", "domain": [0.001, 1000000], "nice": false},
          "axis": {"orient": "left", "values": [0.01,0.1,1,10,100,1000,10000,100000,1000000], "tickSize": {"condition": {"test": "abs(round(log(datum.value)/LN10)) % 2 === 0", "value": -10}, "value": -5}, "labelExpr": "round(log(datum.value)/LN10) === -2 ? '10\u207b\u00b2' : round(log(datum.value)/LN10) === 0 ? '10\u2070' : round(log(datum.value)/LN10) === 2 ? '10\u00b2' : round(log(datum.value)/LN10) === 4 ? '10\u2074' : round(log(datum.value)/LN10) === 6 ? '10\u2076' : ''", "labelOverlap": false, "labelPadding": 20, "title": "Ratio", "titlePadding": 7}},
    "color": {"field": "y", "type": "nominal", "scale": {"domain": [2006,2007,2008,2009,2010], "range": ["#FF14E6","#FF8800","#1EF2AA","#666666","#6DB5DF"]}, "legend": null}
   }},
  {"data": {"values": [{"d": 29, "r": 79400, "t": "(b) GEM-BACH"}]}, "mark": {"type": "text", "align": "left", "baseline": "middle", "fontSize": 24, "font": "Liberation Sans", "color": "black"},
   "encoding": {
    "x": {"field": "d", "type": "quantitative", "scale": {"domain": [0, 400], "nice": false, "zero": false},
          "axis": {"orient": "top", "values": [0,10,20,30,40,50,60,70,80,90,100,110,120,130,140,150,160,170,180,190,200,210,220,230,240,250,260,270,280,290,300,310,320,330,340,350,360,370,380,390,400], "tickSize": {"condition": {"test": "datum.value % 100 === 0", "value": -10}, "value": -5}, "labels": false, "title": null}},
    "y": {"field": "r", "type": "quantitative", "scale": {"type": "log", "domain": [0.001, 1000000], "nice": false},
          "axis": {"orient": "right", "values": [0.01,0.1,1,10,100,1000,10000,100000,1000000], "tickSize": {"condition": {"test": "abs(round(log(datum.value)/LN10)) % 2 === 0", "value": -10}, "value": -5}, "labels": false, "title": null}},
    "text": {"field": "t"}
   }},
  {"data": {"values": [{"y": 2007, "d": 300, "r": 45700, "t": "2007"}, {"y": 2008, "d": 300, "r": 14800, "t": "2008"}, {"y": 2009, "d": 300, "r": 4620, "t": "2009"}]},
   "mark": {"type": "text", "align": "left", "baseline": "middle", "fontSize": 19, "font": "Liberation Sans"},
   "encoding": {
    "x": {"field": "d", "type": "quantitative", "scale": {"domain": [0, 400], "nice": false, "zero": false}, "axis": null},
    "y": {"field": "r", "type": "quantitative", "scale": {"type": "log", "domain": [0.001, 1000000], "nice": false}, "axis": null},
    "text": {"field": "t"},
    "color": {"field": "y", "type": "nominal", "scale": {"domain": [2006,2007,2008,2009,2010], "range": ["#FF14E6","#FF8800","#1EF2AA","#666666","#6DB5DF"]}, "legend": null}
   }}
 ]
},
{
 "width": 551, "height": 344,
 "resolve": {"axis": {"x": "independent", "y": "independent"}},
 "layer": [
  {"data": {"name": "c"}, "mark": {"type": "circle", "size": 46, "opacity": 1},
   "encoding": {
    "x": {"field": "d", "type": "quantitative", "scale": {"domain": [0, 400], "nice": false, "zero": false},
          "axis": {"orient": "bottom", "values": [0,10,20,30,40,50,60,70,80,90,100,110,120,130,140,150,160,170,180,190,200,210,220,230,240,250,260,270,280,290,300,310,320,330,340,350,360,370,380,390,400], "tickSize": {"condition": {"test": "datum.value % 100 === 0", "value": -10}, "value": -5}, "labelExpr": "datum.value % 100 === 0 ? datum.label : ''", "labelFlush": false, "labelOverlap": false, "labelPadding": 20, "title": "Day of year", "titlePadding": -4}},
    "y": {"field": "r", "type": "quantitative", "scale": {"type": "log", "domain": [0.001, 1000000], "nice": false},
          "axis": {"orient": "left", "values": [0.01,0.1,1,10,100,1000,10000,100000,1000000], "tickSize": {"condition": {"test": "abs(round(log(datum.value)/LN10)) % 2 === 0", "value": -10}, "value": -5}, "labelExpr": "round(log(datum.value)/LN10) === -2 ? '10\u207b\u00b2' : round(log(datum.value)/LN10) === 0 ? '10\u2070' : round(log(datum.value)/LN10) === 2 ? '10\u00b2' : round(log(datum.value)/LN10) === 4 ? '10\u2074' : round(log(datum.value)/LN10) === 6 ? '10\u2076' : ''", "labelOverlap": false, "labelPadding": 20, "title": "Ratio", "titlePadding": 7}},
    "color": {"field": "y", "type": "nominal", "scale": {"domain": [2006,2007,2008,2009,2010], "range": ["#FF14E6","#FF8800","#1EF2AA","#666666","#6DB5DF"]}, "legend": null}
   }},
  {"data": {"values": [{"d": 29, "r": 79400, "t": "(c) SLIMCAT"}]}, "mark": {"type": "text", "align": "left", "baseline": "middle", "fontSize": 24, "font": "Liberation Sans", "color": "black"},
   "encoding": {
    "x": {"field": "d", "type": "quantitative", "scale": {"domain": [0, 400], "nice": false, "zero": false},
          "axis": {"orient": "top", "values": [0,10,20,30,40,50,60,70,80,90,100,110,120,130,140,150,160,170,180,190,200,210,220,230,240,250,260,270,280,290,300,310,320,330,340,350,360,370,380,390,400], "tickSize": {"condition": {"test": "datum.value % 100 === 0", "value": -10}, "value": -5}, "labels": false, "title": null}},
    "y": {"field": "r", "type": "quantitative", "scale": {"type": "log", "domain": [0.001, 1000000], "nice": false},
          "axis": {"orient": "right", "values": [0.01,0.1,1,10,100,1000,10000,100000,1000000], "tickSize": {"condition": {"test": "abs(round(log(datum.value)/LN10)) % 2 === 0", "value": -10}, "value": -5}, "labels": false, "title": null}},
    "text": {"field": "t"}
   }},
  {"data": {"values": [{"y": 2006, "d": 300, "r": 151000, "t": "2006"}, {"y": 2007, "d": 300, "r": 45700, "t": "2007"}, {"y": 2008, "d": 300, "r": 14800, "t": "2008"}, {"y": 2009, "d": 300, "r": 4620, "t": "2009"}, {"y": 2010, "d": 300, "r": 1460, "t": "2010"}]},
   "mark": {"type": "text", "align": "left", "baseline": "middle", "fontSize": 19, "font": "Liberation Sans"},
   "encoding": {
    "x": {"field": "d", "type": "quantitative", "scale": {"domain": [0, 400], "nice": false, "zero": false}, "axis": null},
    "y": {"field": "r", "type": "quantitative", "scale": {"type": "log", "domain": [0.001, 1000000], "nice": false}, "axis": null},
    "text": {"field": "t"},
    "color": {"field": "y", "type": "nominal", "scale": {"domain": [2006,2007,2008,2009,2010], "range": ["#FF14E6","#FF8800","#1EF2AA","#666666","#6DB5DF"]}, "legend": null}
   }}
 ]
}
]
}
